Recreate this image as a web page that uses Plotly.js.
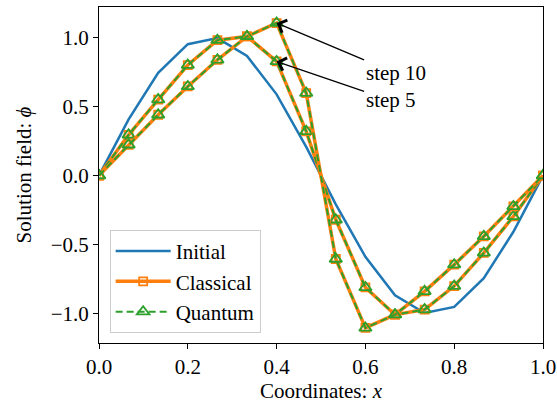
<!DOCTYPE html>
<html>
<head>
<meta charset="utf-8">
<script src="https://cdn.plot.ly/plotly-3.0.1.min.js"></script>
<style>
  html, body { margin: 0; padding: 0; background: #fff; }
  #plot { width: 557px; height: 405px; }
</style>
</head>
<body>
<div id="plot"></div>
<script>
// Grid coordinates (16 nodes on [0, 1])
const coords = [0, 0.0667, 0.1333, 0.2, 0.2667, 0.3333, 0.4, 0.4667,
                0.5333, 0.6, 0.6667, 0.7333, 0.8, 0.8667, 0.9333, 1.0];

// Initial field
const phiInitial = [0, 0.407, 0.743, 0.951, 0.995, 0.866, 0.588, 0.208,
                    -0.208, -0.588, -0.866, -0.995, -0.951, -0.743, -0.407, 0];

// Field after 5 steps
const phiStep5 = [0, 0.295, 0.55, 0.80, 0.98, 1.007, 0.826, 0.32,
                  -0.32, -0.81, -1.007, -0.97, -0.80, -0.56, -0.296, 0];

// Field after 10 steps
const phiStep10 = [0, 0.223, 0.44, 0.645, 0.838, 1.007, 1.104, 0.597,
                   -0.604, -1.103, -1.007, -0.838, -0.645, -0.44, -0.223, 0];

const xTicks = [0, 0.2, 0.4, 0.6, 0.8, 1.0];
const yTicks = [-1.0, -0.5, 0.0, 0.5, 1.0];

const C_BLUE = '#1f77b4', C_ORANGE = '#ff7f0e', C_GREEN = '#2ca02c';
const FONT = 'Liberation Serif, Times New Roman, serif';
const FS = 21;

function classical(y, show) {
  return {
    x: coords, y: y, type: 'scatter', mode: 'lines+markers',
    name: 'Classical', legendgroup: 'classical', showlegend: show,
    line: { color: C_ORANGE, width: 3.5 },
    marker: { symbol: 'square-open', size: 8, color: C_ORANGE, line: { width: 1.8, color: C_ORANGE } }
  };
}
function quantum(y, show) {
  return {
    x: coords, y: y, type: 'scatter', mode: 'lines+markers',
    name: 'Quantum', legendgroup: 'quantum', showlegend: show,
    line: { color: C_GREEN, width: 2, dash: '7px,4px' },
    marker: { symbol: 'triangle-up-open', size: 11, color: C_GREEN, line: { width: 1.8, color: C_GREEN } }
  };
}

const traces = [
  { x: coords, y: phiInitial, type: 'scatter', mode: 'lines', name: 'Initial',
    line: { color: C_BLUE, width: 2.5 } },
  classical(phiStep5, true),
  quantum(phiStep5, true),
  classical(phiStep10, false),
  quantum(phiStep10, false)
];

const axisCommon = {
  showgrid: false, zeroline: false,
  showline: true, mirror: true, linecolor: '#000', linewidth: 1,
  ticks: 'outside', ticklen: 5, tickwidth: 1, tickcolor: '#000',
  tickfont: { family: FONT, size: FS, color: '#000' }
};

const layout = {
  width: 557, height: 405,
  margin: { l: 99, r: 14, t: 7, b: 62 },
  paper_bgcolor: '#fff', plot_bgcolor: '#fff',
  font: { family: FONT, size: FS, color: '#000' },
  xaxis: Object.assign({}, axisCommon, {
    range: [0, 1], tickvals: xTicks, ticktext: xTicks.map(v => v.toFixed(1)),
    title: { text: 'Coordinates: <i>x</i>', font: { family: FONT, size: FS }, standoff: 5 }
  }),
  yaxis: Object.assign({}, axisCommon, {
    range: [-1.212, 1.22], tickvals: yTicks,
    ticktext: yTicks.map(v => (v < 0 ? '\u2212' : '') + Math.abs(v).toFixed(1)),
    title: { text: 'Solution field: <i>\u03d5</i>', font: { family: FONT, size: FS }, standoff: 13 }
  }),
  legend: {
    x: 0.024, y: 0.03, xanchor: 'left', yanchor: 'bottom',
    bgcolor: 'rgba(255,255,255,0.8)', bordercolor: '#cccccc', borderwidth: 1,
    font: { family: FONT, size: FS, color: '#000' },
    itemwidth: 55, tracegroupgap: 0
  },
  annotations: [
    { x: 0.4, y: 1.104, xref: 'x', yref: 'y', text: 'step 10', showarrow: true,
      ax: 119, ay: 50, arrowhead: 4, arrowsize: 2, arrowwidth: 1.3, arrowcolor: '#000',
      font: { family: FONT, size: FS, color: '#000' } },
    { x: 0.4, y: 0.826, xref: 'x', yref: 'y', text: 'step 5', showarrow: true,
      ax: 114, ay: 39, arrowhead: 4, arrowsize: 2, arrowwidth: 1.3, arrowcolor: '#000',
      font: { family: FONT, size: FS, color: '#000' } }
  ]
};

Plotly.newPlot('plot', traces, layout, { displayModeBar: false, staticPlot: true });
</script>
</body>
</html>
